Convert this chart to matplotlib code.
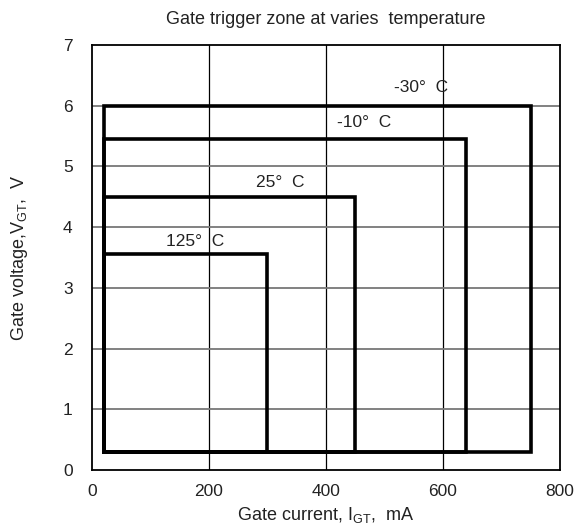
import matplotlib
matplotlib.use("Agg")
import matplotlib.pyplot as plt

plt.rcParams['font.family'] = ['Liberation Sans', 'DejaVu Sans']

temps = ["125°  C", "25°  C", "-10°  C", "-30°  C"]
i_min = [20, 20, 20, 20]
i_max = [300, 450, 640, 750]
v_min = [0.3, 0.3, 0.3, 0.3]
v_max = [3.55, 4.5, 5.45, 6.0]
label_x = [176, 321, 465, 562]
label_y = [3.76, 4.73, 5.72, 6.29]

xticks = [0, 200, 400, 600, 800]
yticks = [0, 1, 2, 3, 4, 5, 6, 7]

FS = 12.5
TC = '#222222'

fig = plt.figure(figsize=(5.79, 5.27), dpi=100)
ax = fig.add_axes([0.159, 0.108, 0.808, 0.807])
ax.set_xlim(0, 800)
ax.set_ylim(0, 7)

for x in xticks[1:-1]:
    ax.axvline(x, color='black', lw=0.9, zorder=1)
for y in yticks[1:-1]:
    ax.axhline(y, color='#777777', lw=1.3, zorder=1)

for t, x0, x1, y0, y1, lx, ly in zip(temps, i_min, i_max, v_min, v_max, label_x, label_y):
    ax.plot([x0, x0, x1, x1, x0], [y0, y1, y1, y0, y0], color='black', lw=2.6,
            solid_joinstyle='miter', zorder=3)
    ax.text(lx, ly, t, ha='center', va='center', fontsize=FS, color=TC)

ax.set_xticks(xticks)
ax.set_yticks(yticks)
ax.tick_params(length=0, labelsize=FS, colors=TC)
ax.tick_params(axis='x', pad=10)
ax.tick_params(axis='y', pad=14)
for s in ax.spines.values():
    s.set_linewidth(1.3)

ax.set_title("Gate trigger zone at varies  temperature", fontsize=13, color=TC, pad=15)
ax.set_xlabel("Gate current, I$_{\\mathregular{GT}}$,  mA", fontsize=13, color=TC, labelpad=4)
ax.set_ylabel("Gate voltage,V$_{\\mathregular{GT}}$,  V", fontsize=13, color=TC, labelpad=24)

fig.savefig("out.png", dpi=100)
